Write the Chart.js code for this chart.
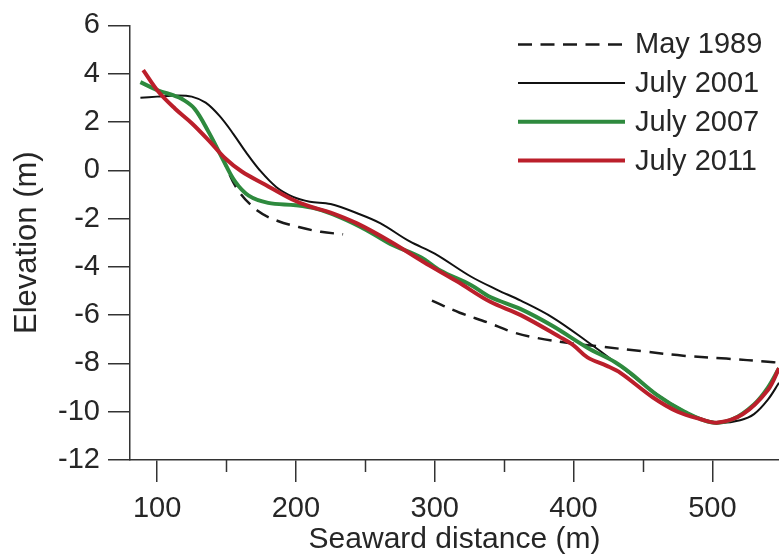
<!DOCTYPE html>
<html>
<head>
<meta charset="utf-8">
<script src="https://cdn.jsdelivr.net/npm/chart.js@4.4.1/dist/chart.umd.min.js"></script>
<style>
  html, body { margin: 0; padding: 0; background: #fff; }
</style>
</head>
<body>
<canvas id="profile_chart" width="779" height="558"></canvas>
<script>
// beach profiles, seaward distance (m) vs elevation (m)
const may1989 = [
    [130, 2.3], [137, 1.6], [147, 0.5], [158, -0.8], [173, -1.7], [187, -2.1],
    [202, -2.35], [218, -2.55], [234, -2.65], [260, null],
    [298, -5.4], [318, -5.9], [338, -6.3], [356, -6.7], [374, -6.95], [398, -7.17],
    [419, -7.3], [450, -7.5], [479, -7.68], [510, -7.8], [540, -7.93], [548, -7.97]
];
const july2001 = [
    [88, 3.0], [100, 3.05], [115, 3.1], [125, 3.05], [135, 2.8], [145, 2.25],
    [155, 1.5], [164, 0.75], [174, 0.0], [186, -0.7], [198, -1.1], [210, -1.3],
    [225, -1.4], [245, -1.8], [261, -2.2], [282, -2.95], [300, -3.45], [326, -4.4],
    [345, -4.95], [362, -5.4], [385, -6.1], [410, -7.1], [430, -7.95], [450, -8.85],
    [470, -9.65], [490, -10.25], [505, -10.45], [520, -10.35], [530, -10.1], [540, -9.5], [548, -8.8]
];
const july2007 = [
    [88, 3.65], [101, 3.3], [112, 3.1], [118, 2.95], [127, 2.55], [137, 1.6],
    [147, 0.5], [156, -0.45], [166, -1.05], [180, -1.35], [200, -1.45], [215, -1.6],
    [232, -1.95], [250, -2.45], [268, -3.05], [290, -3.6], [304, -4.15], [326, -4.75],
    [340, -5.25], [362, -5.75], [385, -6.45], [410, -7.35], [430, -7.95], [441, -8.4],
    [460, -9.3], [480, -10.0], [500, -10.45], [515, -10.3], [530, -9.7], [540, -9.0], [548, -8.2]
];
const july2011 = [
    [90, 4.15], [101, 3.25], [113, 2.55], [125, 1.95], [137, 1.25], [149, 0.5],
    [161, -0.05], [178, -0.6], [197, -1.2], [210, -1.5], [225, -1.75], [244, -2.2],
    [268, -2.95], [292, -3.8], [316, -4.6], [340, -5.45], [362, -6.0], [390, -6.9],
    [400, -7.25], [410, -7.75], [424, -8.1], [434, -8.4], [457, -9.4], [475, -10.0],
    [491, -10.3], [504, -10.45], [522, -10.1], [540, -9.1], [548, -8.2]
];

const seriesNames = ['May 1989', 'July 2001', 'July 2007', 'July 2011'];
const xTicks = [100, 200, 300, 400, 500];
const xMinorTicks = [150, 250, 350, 450];
const yTicks = [-12, -10, -8, -6, -4, -2, 0, 2, 4, 6];

const textColor = '#262626';
const axisColor = '#333';

Chart.defaults.font.family = "'Liberation Sans', Arial, Helvetica, sans-serif";
Chart.defaults.color = textColor;

function toPoints(rows) {
    return rows.map(r => ({ x: r[0], y: r[1] }));
}

// short ticks at the half hundreds, below the x axis
const minorTicks = {
    id: 'minorTicks',
    afterDraw(chart) {
        const xs = chart.scales.x;
        const ctx = chart.ctx;
        ctx.save();
        ctx.strokeStyle = axisColor;
        ctx.lineWidth = 1.5;
        xMinorTicks.forEach(v => {
            const px = Math.round(xs.getPixelForValue(v)) + 0.5;
            ctx.beginPath();
            ctx.moveTo(px, xs.top);
            ctx.lineTo(px, xs.top + 12);
            ctx.stroke();
        });
        ctx.restore();
    }
};

// legend sits inside the plot, top right
const insideLegend = {
    id: 'insideLegend',
    afterDraw(chart) {
        const ctx = chart.ctx;
        const area = chart.chartArea;
        const x0 = area.right - 261;
        const x1 = x0 + 107;
        ctx.save();
        ctx.font = "29px 'Liberation Sans', Arial, sans-serif";
        ctx.textBaseline = 'middle';
        ctx.fillStyle = textColor;
        chart.data.datasets.forEach((ds, i) => {
            const y = area.top + 19 + i * 38.7;
            ctx.beginPath();
            ctx.setLineDash(ds.borderDash || []);
            ctx.strokeStyle = ds.borderColor;
            ctx.lineWidth = ds.borderWidth;
            ctx.moveTo(x0, y);
            ctx.lineTo(x1, y);
            ctx.stroke();
            ctx.setLineDash([]);
            ctx.fillText(ds.label, x1 + 10, y + 1);
        });
        ctx.restore();
    }
};

const datasets = [
    { label: seriesNames[0], data: toPoints(may1989), borderColor: '#1a1a1a', borderWidth: 2.5, borderDash: [14, 8.5], order: 3 },
    { label: seriesNames[1], data: toPoints(july2001), borderColor: '#111111', borderWidth: 2, order: 2 },
    { label: seriesNames[2], data: toPoints(july2007), borderColor: '#2e8a3e', borderWidth: 4, order: 1 },
    { label: seriesNames[3], data: toPoints(july2011), borderColor: '#bb1f2b', borderWidth: 4, order: 0 }
];
datasets.forEach(ds => {
    ds.pointRadius = 0;
    ds.fill = false;
    ds.tension = 0.35;
    ds.spanGaps = false;
});

new Chart(document.getElementById('profile_chart'), {
    type: 'line',
    data: { datasets: datasets },
    options: {
        responsive: false,
        animation: false,
        layout: { padding: { top: 24, right: 0, bottom: 0, left: 0 } },
        plugins: {
            legend: { display: false },
            tooltip: { enabled: false }
        },
        scales: {
            x: {
                type: 'linear',
                min: 80.5,
                max: 548,
                afterBuildTicks: s => { s.ticks = xTicks.map(v => ({ value: v })); },
                afterFit: s => { s.height = 98; },
                ticks: { font: { size: 29 }, padding: 10, maxRotation: 0, color: textColor },
                grid: { drawOnChartArea: false, drawTicks: true, tickLength: 22, color: axisColor, lineWidth: 1.5 },
                border: { display: true, color: axisColor, width: 1.5 },
                title: { display: true, text: 'Seaward distance (m)', font: { size: 30 }, padding: { top: 0, bottom: 0 }, color: textColor }
            },
            y: {
                type: 'linear',
                min: -12,
                max: 6,
                afterBuildTicks: s => { s.ticks = yTicks.map(v => ({ value: v })); },
                afterFit: s => { s.width = 130; },
                ticks: { font: { size: 29 }, padding: 8, color: textColor },
                grid: { drawOnChartArea: false, drawTicks: true, tickLength: 22, color: axisColor, lineWidth: 1.5 },
                border: { display: true, color: axisColor, width: 1.5 },
                title: { display: true, text: 'Elevation (m)', font: { size: 31 }, padding: { top: 9, bottom: 0 }, color: textColor }
            }
        }
    },
    plugins: [minorTicks, insideLegend]
});
</script>
</body>
</html>
